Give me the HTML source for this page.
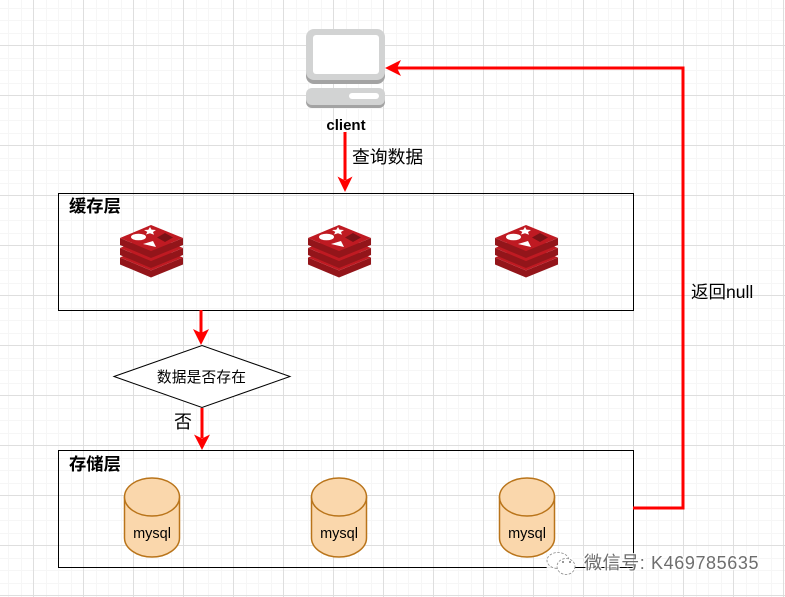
<!DOCTYPE html>
<html>
<head>
<meta charset="utf-8">
<style>
html,body{margin:0;padding:0;background:#fff;}
svg{display:block;}
text{font-family:"Liberation Sans","Noto Sans CJK SC",sans-serif;fill:#000;}
</style>
</head>
<body>
<svg width="785" height="597" viewBox="0 0 785 597" xmlns="http://www.w3.org/2000/svg">
<defs>
<pattern id="grid" x="33" y="45" width="50" height="50" patternUnits="userSpaceOnUse">
<rect width="50" height="50" fill="#fff"/>
<g fill="#f6f6f6">
<rect x="13" y="0" width="1" height="50"/><rect x="25" y="0" width="1" height="50"/><rect x="38" y="0" width="1" height="50"/>
<rect x="0" y="13" width="50" height="1"/><rect x="0" y="25" width="50" height="1"/><rect x="0" y="38" width="50" height="1"/>
</g>
<rect x="0" y="0" width="1" height="50" fill="#dedede"/>
<rect x="0" y="0" width="50" height="1" fill="#dedede"/>
</pattern>
<g id="layer">
<path d="M120 238L151 251L183 238V245L151 258L120 245Z" fill="#93151a"/>
<path d="M120 238L151 225L183 238L151 251Z" fill="#bf1a22"/>
</g>
<g id="redis">
<use href="#layer" y="19.500"/>
<use href="#layer" y="10"/>
<use href="#layer"/>
<ellipse cx="138.500" cy="237" rx="7.500" ry="3.300" fill="#fff"/>
<path d="M150 227l1.500 2.600 4.500 .4-3 2 1 2.800-4-1.500-4 1.200 1.300-2.600-3.300-1.900 4.300-.3z" fill="#fff"/>
<path d="M143 244L153 241L156 247Z" fill="#fff"/>
<path d="M157 237.500L165 233L173 237.500L165 242Z" fill="#7b1216"/>
</g>
<g id="db">
<path d="M124.500 497v41c0 10 12 19 27.500 19s27.500-9 27.500-19v-41z" fill="#fad7ac" stroke="#b9741a" stroke-width="1.500"/>
<ellipse cx="152" cy="497" rx="27.500" ry="19" fill="#fad7ac" stroke="#b9741a" stroke-width="1.500"/>
<text x="152" y="538" font-size="14.500" text-anchor="middle">mysql</text>
</g>
</defs>

<rect width="785" height="597" fill="url(#grid)"/>

<!-- client -->
<rect x="306" y="33" width="79" height="51" rx="8" fill="#a3a3a3"/>
<rect x="306" y="29" width="79" height="51" rx="8" fill="#d2d3d3"/>
<rect x="313" y="35" width="66" height="39" rx="3" fill="#fff"/>
<rect x="306" y="92" width="79" height="16" rx="6" fill="#a3a3a3"/>
<rect x="306" y="88" width="79" height="17" rx="6" fill="#d2d3d3"/>
<rect x="349" y="93" width="30" height="6" rx="3" fill="#fff"/>
<text x="346" y="130" font-size="15" font-weight="bold" text-anchor="middle">client</text>

<!-- boxes -->
<rect x="58.500" y="193.500" width="575" height="117" fill="none" stroke="#000" stroke-width="1"/>
<rect x="58.500" y="450.500" width="575" height="117" fill="none" stroke="#000" stroke-width="1"/>
<text x="69" y="212" font-size="17.300" font-weight="bold">缓存层</text>
<text x="69" y="470" font-size="17.300" font-weight="bold">存储层</text>

<use href="#redis"/>
<use href="#redis" x="188"/>
<use href="#redis" x="375"/>

<use href="#db"/>
<use href="#db" x="187"/>
<use href="#db" x="375"/>

<!-- diamond -->
<path d="M114 376.500L202 345.500L290 376.500L202 407.500Z" fill="#fff" stroke="#000" stroke-width="1"/>
<text x="201.500" y="382" font-size="14.700" text-anchor="middle" letter-spacing="0.200">数据是否存在</text>

<!-- connectors -->
<g stroke="#ff0000" stroke-width="3" fill="none">
<path d="M345 132V180"/>
<path d="M201 310V334"/>
<path d="M202 408V438"/>
<path d="M633 508H683V68H396"/>
</g>
<g fill="#ff0000">
<path d="M345 192L337.500 176.500L345 180.500L352.500 176.500Z"/>
<path d="M201 345L193 329L201 333L209 329Z"/>
<path d="M202 450L194 434.500L202 438.500L210 434.500Z"/>
<path d="M385 68L401 60L397 68L401 76Z"/>
</g>

<text x="352" y="163" font-size="17.800">查询数据</text>
<text x="174" y="428" font-size="18">否</text>
<text x="691" y="298" font-size="17.500">返回null</text>

<!-- watermark -->
<ellipse cx="560" cy="564" rx="14" ry="12" fill="#fff" opacity="0.900"/>
<g fill="#fff" stroke="#8c8c8c" stroke-width="0.800" stroke-dasharray="2.500 1.500">
<ellipse cx="558" cy="560.500" rx="11" ry="8"/>
<ellipse cx="566" cy="566.500" rx="9" ry="8"/>
</g>
<circle cx="563" cy="562" r="1" fill="#777"/>
<circle cx="570" cy="562" r="1" fill="#777"/>
<text x="584" y="569" font-size="18" letter-spacing="0.600" style="fill:#fff;stroke:#fff;stroke-width:2.500;paint-order:stroke" opacity="0.800">微信号: K469785635</text>
<text x="584" y="569" font-size="18" letter-spacing="0.600" style="fill:#6e6e6e">微信号: K469785635</text>
</svg>
</body>
</html>
